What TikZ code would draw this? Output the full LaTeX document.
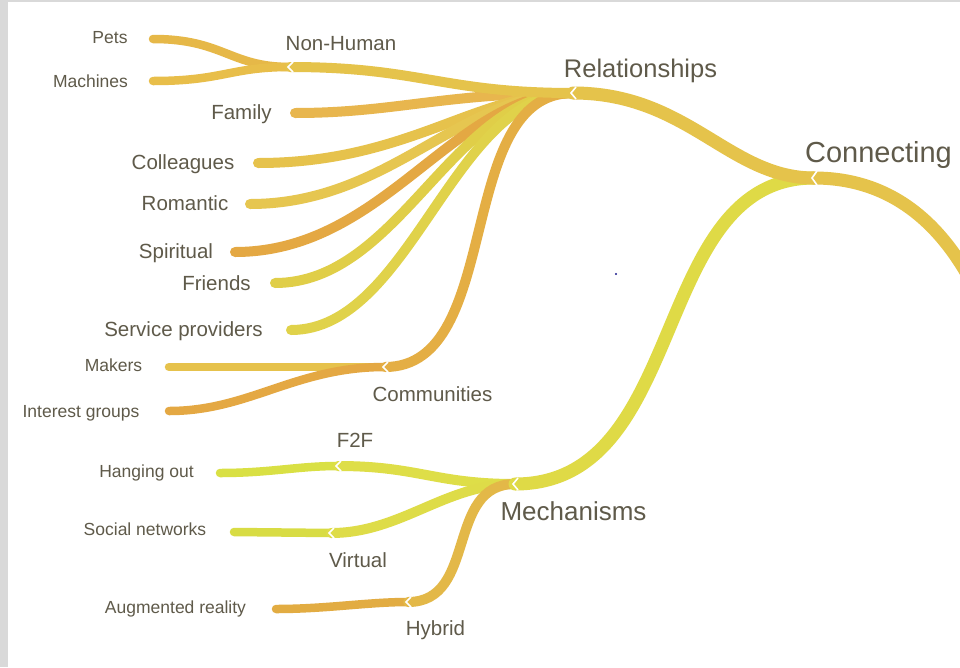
\documentclass[tikz,border=0pt]{standalone}
\usepackage{fontspec}
\setmainfont{Liberation Sans}

\definecolor{c_text}{HTML}{5F5A4A}
\definecolor{c_frame}{HTML}{D9D9D9}
\definecolor{c_gold}{HTML}{E5C34B}
\definecolor{c_mech}{HTML}{DFDA46}
\definecolor{c_pets}{HTML}{E6B848}
\definecolor{c_machines}{HTML}{E8BE4A}
\definecolor{c_family}{HTML}{E8B64E}
\definecolor{c_colleagues}{HTML}{E6C24C}
\definecolor{c_romantic}{HTML}{E6C650}
\definecolor{c_spiritual}{HTML}{E4A843}
\definecolor{c_friends}{HTML}{E0CE48}
\definecolor{c_service}{HTML}{E0D24A}
\definecolor{c_communities}{HTML}{E4AE44}
\definecolor{c_makers}{HTML}{E6C24C}
\definecolor{c_interest}{HTML}{E4A843}
\definecolor{c_f2f}{HTML}{DEDE48}
\definecolor{c_hanging}{HTML}{D9E044}
\definecolor{c_virtual}{HTML}{DEDC48}
\definecolor{c_social}{HTML}{D8DC44}
\definecolor{c_hybrid}{HTML}{E3B848}
\definecolor{c_augmented}{HTML}{E2AC42}
\definecolor{c_dot}{HTML}{1A1A8C}

\begin{document}
\begin{tikzpicture}[
  x=1pt, y=-1pt,
  line/.style={draw, line cap=round},
  branch_trunk/.style={line, line width=13pt},
  branch_limb/.style={line, line width=10pt},
  branch_twig/.style={line, line width=8.5pt},
  notch/.style={draw=white, line width=1.6pt},
  label/.style={text=c_text, inner sep=0pt, text depth=0pt},
  label_huge/.style={label, font=\fontsize{29}{33}\selectfont, text height=20.8pt},
  label_big/.style={label, font=\fontsize{26}{30}\selectfont, text height=18.6pt},
  label_mid/.style={label, font=\fontsize{20.5}{24}\selectfont, text height=14.7pt},
  label_small/.style={label, font=\fontsize{17.5}{21}\selectfont, text height=12.5pt}
  ]

\useasboundingbox (0,0) rectangle (960,667);
\fill [white] (0,0) rectangle (960,667);
\fill [c_frame] (0,0) rectangle (8,667);
\fill [c_frame] (0,0) rectangle (960,2);

% junctions
\coordinate (connecting) at (814,178);
\coordinate (rel) at (573,93);
\coordinate (mech) at (515,484);
\coordinate (nonhuman) at (290,67);
\coordinate (communities) at (385,367);
\coordinate (f2f) at (338,466);
\coordinate (virtual) at (331,533);
\coordinate (hybrid) at (408,602);
\coordinate (conn_out) at (985,310);

% leaf ends
\coordinate (pets_end) at (153,39);
\coordinate (machines_end) at (153,81);
\coordinate (family_end) at (295,113);
\coordinate (colleagues_end) at (258,163);
\coordinate (romantic_end) at (250,204);
\coordinate (spiritual_end) at (235,252);
\coordinate (friends_end) at (275,283);
\coordinate (service_end) at (291,330);
\coordinate (makers_end) at (169,367);
\coordinate (interest_end) at (169,411);
\coordinate (hanging_end) at (220,473);
\coordinate (social_end) at (234,532);
\coordinate (augmented_end) at (276,609);

% labels
\node [label_huge] (connecting_text) at (878.5,152) {Connecting};
\node [label_big, font=\fontsize{25.5}{30}\selectfont] (rel_text) at (640.5,68) {Relationships};
\node [label_big] (mech_text) at (573.5,511) {Mechanisms};
\node [label_mid] (nonhuman_text) at (341,43) {Non-Human};
\node [label_small] (pets_text) at (110,37) {Pets};
\node [label_small] (machines_text) at (90.5,81) {Machines};
\node [label_mid] (family_text) at (241.5,112) {Family};
\node [label_mid] (colleagues_text) at (183,162) {Colleagues};
\node [label_mid] (romantic_text) at (185,203) {Romantic};
\node [label_mid] (spiritual_text) at (176,251) {Spiritual};
\node [label_mid] (friends_text) at (216.5,283) {Friends};
\node [label_mid] (service_text) at (183.5,329) {Service providers};
\node [label_small] (makers_text) at (113.5,365) {Makers};
\node [label_small] (interest_text) at (81,411) {Interest groups};
\node [label_mid] (communities_text) at (432.5,394) {Communities};
\node [label_mid] (f2f_text) at (355,440) {F2F};
\node [label_small] (hanging_text) at (146.5,471) {Hanging out};
\node [label_mid] (virtual_text) at (358,560) {Virtual};
\node [label_small] (social_text) at (145,529) {Social networks};
\node [label_mid] (hybrid_text) at (435.5,628) {Hybrid};
\node [label_small] (augmented_text) at (175.5,607) {Augmented reality};

% leaves of Relationships
\path [branch_twig, draw=c_pets] (pets_end) .. controls +(70,0) and +(-60,0) .. (nonhuman);
\path [branch_twig, draw=c_machines] (machines_end) .. controls +(70,0) and +(-60,0) .. (nonhuman);
\path [branch_limb, draw=c_family] (family_end) .. controls +(100,0) and +(-130,0) .. (rel);
\path [branch_limb, draw=c_colleagues] (colleagues_end) .. controls +(150,0) and +(-98,0) .. (rel);
\path [branch_limb, draw=c_romantic] (romantic_end) .. controls +(140,0) and +(-113,0) .. (rel);
\path [branch_limb, draw=c_spiritual] (spiritual_end) .. controls +(150,0) and +(-120,0) .. (rel);
\path [branch_limb, draw=c_friends] (friends_end) .. controls +(125,0) and +(-120,0) .. (rel);
\path [branch_limb, draw=c_service] (service_end) .. controls +(120,0) and +(-120,0) .. (rel);
\path [branch_twig, draw=c_makers] (makers_end) -- (communities);
\path [branch_twig, draw=c_interest] (interest_end) .. controls +(80,0) and +(-90,0) .. (communities);
\path [branch_limb, draw=c_communities] (communities) .. controls +(120,0) and +(-120,0) .. (rel);
\path [branch_limb, draw=c_gold] (nonhuman) .. controls +(130,0) and +(-130,0) .. (rel);

% leaves of Mechanisms
\path [branch_twig, draw=c_hanging] (hanging_end) .. controls +(50,0) and +(-40,0) .. (f2f);
\path [branch_twig, draw=c_social] (social_end) -- (virtual);
\path [branch_twig, draw=c_augmented] (augmented_end) .. controls +(50,0) and +(-40,0) .. (hybrid);
\path [branch_limb, draw=c_f2f] (f2f) .. controls +(80,0) and +(-80,0) .. (mech);
\path [branch_limb, draw=c_virtual] (virtual) .. controls +(70,0) and +(-70,0) .. (mech);
\path [branch_limb, draw=c_hybrid] (hybrid) .. controls +(70,0) and +(-70,0) .. (mech);

% main branches
\path [branch_trunk, draw=c_mech] (mech) .. controls +(175,0) and +(-165,0) .. (connecting);
\path [branch_trunk, draw=c_gold] (rel) .. controls +(115,0) and +(-85,0) .. (connecting);
\path [branch_trunk, draw=c_gold] (connecting) .. controls +(90,0) and +(-30,-70) .. (conn_out);

% notches at the junctions
\foreach \j/\h in {connecting/7, rel/6, mech/6, nonhuman/5, communities/5, f2f/5, virtual/5, hybrid/5}
  \draw [notch] ([shift={(3,-\h)}]\j) -- ([shift={(-2,0)}]\j) -- ([shift={(3,\h)}]\j);

\fill [c_dot] (616,274) circle (1.2);

\end{tikzpicture}
\end{document}
